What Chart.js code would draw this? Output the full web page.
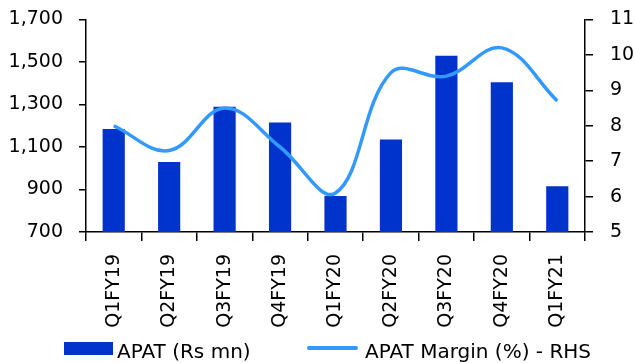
<!DOCTYPE html>
<html><head><meta charset="utf-8">
<script src="https://cdn.jsdelivr.net/npm/chart.js@4.4.0/dist/chart.umd.min.js"></script>
<style>
html,body{margin:0;padding:0;background:#fff;}
#wrap{position:relative;width:635px;height:363px;overflow:hidden;background:#fff;}
#c{position:absolute;left:0;top:0;}
.lgtext{position:absolute;font-family:'DejaVu Sans';font-size:20px;line-height:20px;color:#000;white-space:nowrap;}
.lgmark{position:absolute;}
</style></head><body>
<div id="wrap">
<canvas id="c" width="635" height="363"></canvas>
<div id="legend"></div>
</div>
<script>
const categories = ['Q1FY19','Q2FY19','Q3FY19','Q4FY19','Q1FY20','Q2FY20','Q3FY20','Q4FY20','Q1FY21'];
const apat = [1185, 1030, 1290, 1215, 870, 1135, 1530, 1405, 915];
const apatMargin = [8.0, 7.3, 8.5, 7.4, 6.1, 9.5, 9.4, 10.2, 8.7];
const leftTicks = [700, 900, 1100, 1300, 1500, 1700];
const rightTicks = [5, 6, 7, 8, 9, 10, 11];
const seriesNames = ['APAT (Rs mn)', 'APAT Margin (%) - RHS'];
const barColor = '#0033CC';
const lineColor = '#3399FF';

Chart.defaults.font.family = "'DejaVu Sans'";
Chart.defaults.font.size = 19;
Chart.defaults.color = '#000';

const noPad = s => { s.paddingTop = 0; s.paddingBottom = 0; s.paddingLeft = 0; s.paddingRight = 0; };

const chart = new Chart(document.getElementById('c'), {
  type: 'bar',
  data: {
    labels: categories,
    datasets: [
      {
        type: 'line',
        label: seriesNames[1],
        data: apatMargin,
        yAxisID: 'y1',
        borderColor: lineColor,
        backgroundColor: lineColor,
        borderWidth: 3.5,
        pointRadius: 0,
        tension: 0.38,
        fill: false,
        order: 0
      },
      {
        type: 'bar',
        label: seriesNames[0],
        data: apat,
        yAxisID: 'y',
        backgroundColor: barColor,
        borderWidth: 0,
        barPercentage: 0.4,
        categoryPercentage: 1.0,
        order: 1
      }
    ]
  },
  options: {
    responsive: false,
    animation: false,
    devicePixelRatio: 1,
    layout: { padding: { top: 19.5, bottom: 36, left: 0, right: 0 } },
    plugins: { legend: { display: false }, tooltip: { enabled: false } },
    scales: {
      x: {
        offset: true,
        grid: { offset: true, drawOnChartArea: false, drawTicks: true, tickLength: 9, color: '#000', lineWidth: 1.5 },
        border: { color: '#000', width: 1.5 },
        ticks: { minRotation: 90, maxRotation: 90, autoSkip: false, padding: 13, color: '#000' },
        afterFit: s => { s.height = 95; noPad(s); }
      },
      y: {
        position: 'left',
        min: 700, max: 1700,
        grid: { drawOnChartArea: false, drawTicks: true, tickLength: 7, color: '#000', lineWidth: 1.5 },
        border: { color: '#000', width: 1.5 },
        afterBuildTicks: s => { s.ticks = leftTicks.map(v => ({ value: v })); },
        ticks: { padding: 16, color: '#000', callback: v => Number(v).toLocaleString('en-US') },
        afterFit: s => { s.width = 86; noPad(s); }
      },
      y1: {
        position: 'right',
        min: 5, max: 11,
        grid: { drawOnChartArea: false, drawTicks: true, tickLength: 8, color: '#000', lineWidth: 1.5 },
        border: { color: '#000', width: 1.5 },
        afterBuildTicks: s => { s.ticks = rightTicks.map(v => ({ value: v })); },
        ticks: { padding: 17, color: '#000', callback: v => String(v) },
        afterFit: s => { s.width = 50; noPad(s); }
      }
    }
  }
});

// HTML legend (text as real text)
const lg = document.getElementById('legend');
const items = [
  { name: seriesNames[0], color: barColor, kind: 'box', markX: 64, markY: 342, markW: 49, markH: 13, textX: 117 },
  { name: seriesNames[1], color: lineColor, kind: 'line', markX: 307, markY: 346, markW: 51, markH: 3.5, textX: 365 }
];
items.forEach(it => {
  const m = document.createElement('div');
  m.className = 'lgmark';
  m.style.left = it.markX + 'px';
  m.style.top = it.markY + 'px';
  m.style.width = it.markW + 'px';
  m.style.height = it.markH + 'px';
  m.style.background = it.color;
  if (it.kind === 'line') m.style.borderRadius = '2px';
  lg.appendChild(m);
  const t = document.createElement('div');
  t.className = 'lgtext';
  t.style.left = it.textX + 'px';
  t.style.top = '341px';
  t.textContent = it.name;
  lg.appendChild(t);
});
</script>
</body></html>
